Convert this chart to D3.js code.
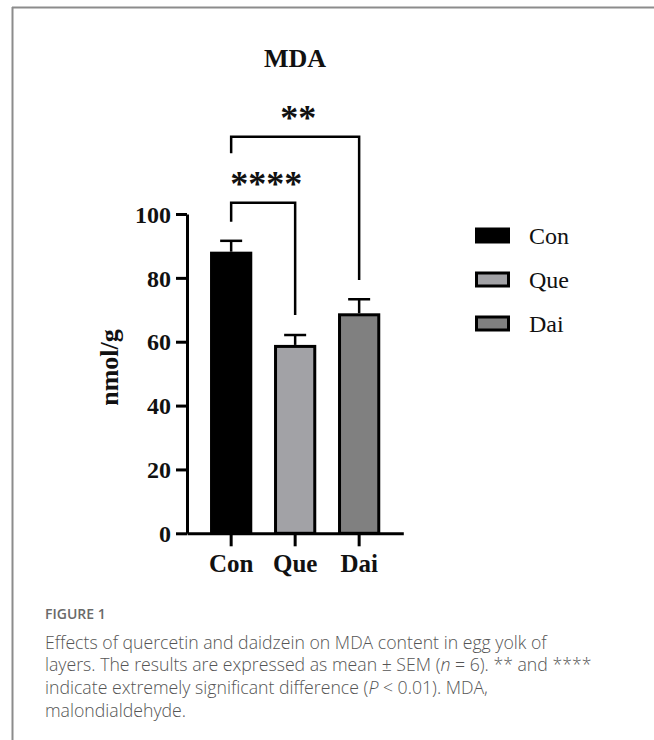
<!DOCTYPE html>
<html>
<head>
<meta charset="utf-8">
<script src="https://cdn.jsdelivr.net/npm/d3@7"></script>
<style>
  html, body { margin: 0; padding: 0; background: #fff; }
  svg { display: block; }
</style>
</head>
<body>
<svg id="chart" width="654" height="740"></svg>
<script>
// ---- data ----
const categories = ["Con", "Que", "Dai"];
const means = [88.2, 59.0, 68.9];
const sems = [3.4, 3.1, 4.4];
const barColors = ["#000000", "#a2a2a6", "#808080"];
const yTicks = [0, 20, 40, 60, 80, 100];
// significance brackets (values in y units)
const compFrom = ["Con", "Con"];
const compTo = ["Que", "Dai"];
const compLabels = ["****", "**"];
const compLevel = [103.5, 124.2];
const compLeftEnd = [97.6, 119.0];
const compRightEnd = [68.4, 79.3];
const title = "MDA";
const yLabel = "nmol/g";
const captionHead = "FIGURE 1";

const svg = d3.select("#chart");

// frame
svg.append("line").attr("x1", 12).attr("y1", 7.5).attr("x2", 654).attr("y2", 7.5)
  .attr("stroke", "#8c8c8c").attr("stroke-width", 2);
svg.append("line").attr("x1", 12.5).attr("y1", 7).attr("x2", 12.5).attr("y2", 740)
  .attr("stroke", "#8c8c8c").attr("stroke-width", 2);

const serif = "'Liberation Serif', 'Times New Roman', serif";

const x = d3.scaleBand().domain(categories).range([187, 403.3])
  .paddingInner(0.34).paddingOuter(0.36);
const y = d3.scaleLinear().domain([0, 100]).range([533.3, 214]);

// title
svg.append("text").attr("x", 295).attr("y", 66.5).attr("text-anchor", "middle")
  .attr("font-family", serif).attr("font-weight", "bold").attr("font-size", 26)
  .attr("fill", "#111").text(title);

// bars
const sw = 3;
const data = categories.map((c, i) => ({ c, m: means[i], s: sems[i], col: barColors[i] }));
svg.append("g").selectAll("rect").data(data).join("rect")
  .attr("x", d => x(d.c) + sw / 2)
  .attr("width", x.bandwidth() - sw)
  .attr("y", d => y(d.m) + sw / 2)
  .attr("height", d => y(0) - y(d.m) - sw / 2)
  .attr("fill", d => d.col)
  .attr("stroke", "#000").attr("stroke-width", sw);

// error bars
const eg = svg.append("g").attr("stroke", "#000").attr("stroke-width", 2.5);
data.forEach(d => {
  const cx = x(d.c) + x.bandwidth() / 2;
  eg.append("line").attr("x1", cx).attr("x2", cx).attr("y1", y(d.m)).attr("y2", y(d.m + d.s));
  eg.append("line").attr("x1", cx - 11).attr("x2", cx + 11).attr("y1", y(d.m + d.s)).attr("y2", y(d.m + d.s));
});

// y axis
const yAxis = svg.append("g").attr("transform", "translate(187,0)")
  .call(d3.axisLeft(y).tickValues(yTicks).tickSize(11).tickSizeOuter(0).tickPadding(5));
yAxis.select(".domain").attr("stroke-width", 3);
yAxis.selectAll(".tick line").attr("stroke-width", 3);
yAxis.selectAll(".tick text").attr("font-family", serif).attr("font-weight", "bold")
  .attr("font-size", 24).attr("fill", "#111").attr("dy", "0.34em");

// x axis
const xAxis = svg.append("g").attr("transform", "translate(0,533.3)")
  .call(d3.axisBottom(x).tickSize(13).tickSizeOuter(0).tickPadding(8));
xAxis.select(".domain").attr("stroke-width", 3);
xAxis.selectAll(".tick line").attr("stroke-width", 3);
xAxis.selectAll(".tick text").attr("font-family", serif).attr("font-weight", "bold")
  .attr("font-size", 25).attr("fill", "#111").attr("dy", "0.72em");

// y label
svg.append("text").attr("transform", "translate(118,367.5) rotate(-90)")
  .attr("text-anchor", "middle").attr("font-family", serif).attr("font-weight", "bold")
  .attr("font-size", 26).attr("fill", "#111").text(yLabel);

// significance brackets
const bg = svg.append("g");
compFrom.forEach((f, i) => {
  const x1 = x(f) + x.bandwidth() / 2;
  const x2 = x(compTo[i]) + x.bandwidth() / 2;
  const yl = y(compLevel[i]);
  const p = d3.path();
  p.moveTo(x1, y(compLeftEnd[i]));
  p.lineTo(x1, yl);
  p.lineTo(x2, yl);
  p.lineTo(x2, y(compRightEnd[i]));
  bg.append("path").attr("d", p.toString()).attr("fill", "none")
    .attr("stroke", "#000").attr("stroke-width", 2.5);
  bg.append("text").attr("x", (x1 + x2) / 2 + 3).attr("y", yl - 7)
    .attr("text-anchor", "middle").attr("font-family", serif).attr("font-weight", "bold")
    .attr("font-size", 36).attr("fill", "#111").text(compLabels[i]);
});

// legend
const lg = svg.append("g");
categories.forEach((c, i) => {
  const ly = 235.5 + i * 44;
  lg.append("rect").attr("x", 476.5).attr("y", ly - 6.5).attr("width", 32).attr("height", 13)
    .attr("fill", barColors[i]).attr("stroke", "#000").attr("stroke-width", 3);
  lg.append("text").attr("x", 529).attr("y", ly + 8).attr("font-family", serif)
    .attr("font-size", 24).attr("fill", "#111").text(c);
});

// caption
const sans = "'Open Sans', 'Noto Sans', sans-serif";
svg.append("text").attr("x", 45).attr("y", 619).attr("font-family", sans)
  .attr("font-size", 14).attr("font-weight", 600).attr("fill", "#6a6a6a").text(captionHead);

const cap = svg.append("text").attr("font-family", sans).attr("font-size", 17.7)
  .attr("font-weight", 300).attr("fill", "#555");
const lines = [
  [["Effects of quercetin and daidzein on MDA content in egg yolk of", false]],
  [["layers. The results are expressed as mean \u00B1 SEM (", false], ["n", true], [" = 6). ** and ****", false]],
  [["indicate extremely significant difference (", false], ["P", true], [" < 0.01). MDA,", false]],
  [["malondialdehyde.", false]]
];
lines.forEach((ln, i) => {
  ln.forEach((seg, j) => {
    const t = cap.append("tspan").text(seg[0]).attr("font-style", seg[1] ? "italic" : "normal");
    if (j === 0) t.attr("x", 45).attr("y", 648.5 + i * 22.7);
  });
});
</script>
</body>
</html>
